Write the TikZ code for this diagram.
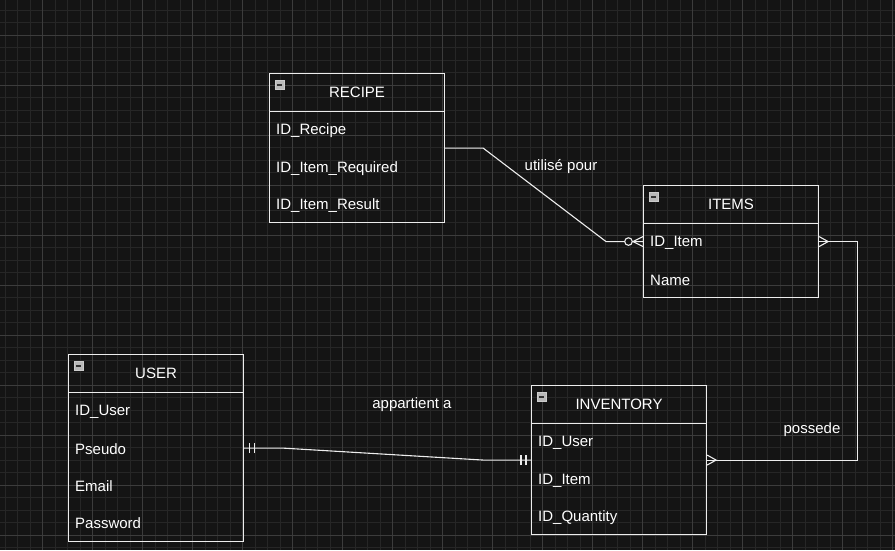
\documentclass[tikz,border=0pt]{standalone}
\usepackage{fontspec}
\setmainfont{Liberation Sans}
\usetikzlibrary{positioning,calc,decorations.markings}
\definecolor{canvas}{HTML}{141414}
\definecolor{gridminor}{HTML}{262626}
\definecolor{gridmajor}{HTML}{3C3C3C}
\definecolor{edge}{HTML}{EDEDED}

\begin{document}
\begin{tikzpicture}[
    x=1pt, y=-1pt,
    font=\fontsize{15}{18}\selectfont,
    ebox/.style={rectangle, draw=edge, line width=1.1pt, minimum width=175pt, anchor=north west, inner sep=0},
    ehead/.style={ebox, minimum height=37.5pt},
    etitle/.style={text=white},
    field/.style={text=white, anchor=west, inner sep=0},
    rel/.style={text=white},
    minbox/.style={rectangle, draw=gray!40, fill=gray!55, line width=0.8pt, minimum size=9pt, inner sep=0,
        path picture={\draw[black!80, line width=1.3pt] ([xshift=2pt]path picture bounding box.west) -- ([xshift=-2pt]path picture bounding box.east);}},
    link/.style={draw=edge, line width=1.1pt},
    onestart/.style={postaction={decorate, decoration={markings,
        mark=at position 5pt with {\draw[link] (0,-5pt) -- (0,5pt);},
        mark=at position 10pt with {\draw[link] (0,-5pt) -- (0,5pt);}}}},
    oneend/.style={postaction={decorate, decoration={markings,
        mark=at position -5pt with {\draw[link] (0,-5pt) -- (0,5pt);},
        mark=at position -10pt with {\draw[link] (0,-5pt) -- (0,5pt);}}}},
    manystart/.style={postaction={decorate, decoration={markings,
        mark=at position 0.01pt with {\draw[link] (0,-5pt) -- (9pt,0) -- (0,5pt);}}}},
    manyend/.style={postaction={decorate, decoration={markings,
        mark=at position -0.01pt with {\draw[link] (0,-5pt) -- (-9pt,0) -- (0,5pt);}}}},
    zeromanyend/.style={postaction={decorate, decoration={markings,
        mark=at position -0.01pt with {\draw[link] (0,-5pt) -- (-10pt,0) -- (0,5pt);
            \draw[link, fill=canvas] (-14.5pt,0) circle (3.8pt);}}}}
]
    % Canvas and grid
    \useasboundingbox (0,0) rectangle (895,550);
    \fill[canvas] (0,0) rectangle (895,550);
    \foreach \gx in {5,17.5,...,895} \draw[gridminor, line width=0.8pt] (\gx,0) -- (\gx,550);
    \foreach \gy in {10,22.5,...,550} \draw[gridminor, line width=0.8pt] (0,\gy) -- (895,\gy);
    \foreach \gx in {42.5,92.5,...,895} \draw[gridmajor, line width=0.8pt] (\gx,0) -- (\gx,550);
    \foreach \gy in {35,85,...,550} \draw[gridmajor, line width=0.8pt] (0,\gy) -- (895,\gy);

    % RECIPE
    \node[ebox, minimum height=149pt] (recipe) at (269,73) {};
    \node[ehead] (recipehead) at (269,73) {};
    \node[etitle] (recipetitle) at (recipehead.center) {RECIPE};
    \node[minbox] (recipemin) at (279.5,85) {};
    \node[field] (recipeid) at (276,130.5) {ID\_Recipe};
    \node[field] (recipereq) at (276,168.5) {ID\_Item\_Required};
    \node[field] (reciperes) at (276,205.5) {ID\_Item\_Result};

    % ITEMS
    \node[ebox, minimum height=112pt] (items) at (643,185) {};
    \node[ehead] (itemshead) at (643,185) {};
    \node[etitle] (itemstitle) at (itemshead.center) {ITEMS};
    \node[minbox] (itemsmin) at (653.5,197) {};
    \node[field] (itemsid) at (650,242.5) {ID\_Item};
    \node[field] (itemsname) at (650,280.5) {Name};

    % USER
    \node[ebox, minimum height=187pt] (user) at (68,354) {};
    \node[ehead] (userhead) at (68,354) {};
    \node[etitle] (usertitle) at (userhead.center) {USER};
    \node[minbox] (usermin) at (78.5,366) {};
    \node[field] (userid) at (75,411.5) {ID\_User};
    \node[field] (userpseudo) at (75,449.5) {Pseudo};
    \node[field] (usermail) at (75,486.5) {Email};
    \node[field] (userpass) at (75,523.5) {Password};

    % INVENTORY
    \node[ebox, minimum height=149pt] (inventory) at (531,385) {};
    \node[ehead] (inventoryhead) at (531,385) {};
    \node[etitle] (inventorytitle) at (inventoryhead.center) {INVENTORY};
    \node[minbox] (inventorymin) at (541.5,397) {};
    \node[field] (invuser) at (538,442.5) {ID\_User};
    \node[field] (invitem) at (538,480.5) {ID\_Item};
    \node[field] (invqty) at (538,517.5) {ID\_Quantity};

    % Relations
    \draw[link, zeromanyend] (recipe.east) -- ++(38,0) -- ($(items.west)+(-37,0)$) -- (items.west);
    \node[rel] (usedfor) at (561,167) {utilisé pour};

    \draw[link, manystart, manyend] (items.east) -- ++(38,0) |- (inventory.east);
    \node[rel] (owns) at (812,430) {possede};

    \draw[link, onestart, oneend] (user.east) -- ++(38,0) -- ($(inventory.west)+(-48,0)$) -- (inventory.west);
    \node[rel] (belongs) at (412,405) {appartient a};

\end{tikzpicture}
\end{document}
